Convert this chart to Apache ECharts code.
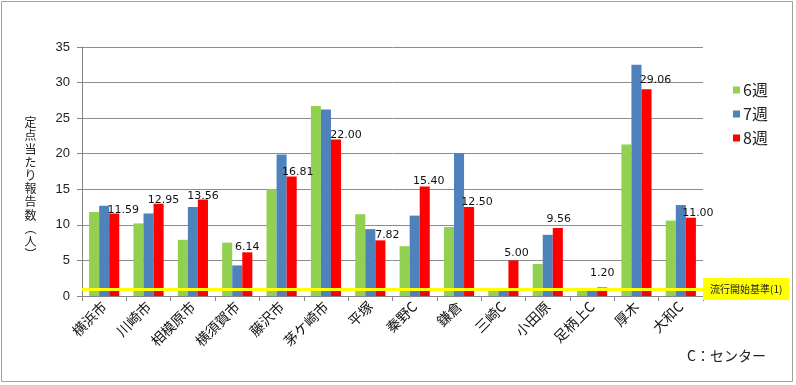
<!DOCTYPE html>
<html><head><meta charset="utf-8">
<script src="https://cdn.jsdelivr.net/npm/echarts@6/dist/echarts.min.js"></script>
<style>html,body{margin:0;padding:0;background:#fff}#c{width:796px;height:385px}</style>
</head><body><div id="c"></div>
<script>
const categories = ['横浜市','川崎市','相模原市','横須賀市','藤沢市','茅ケ崎市','平塚','秦野C','鎌倉','三崎C','小田原','足柄上C','厚木','大和C'];
const week6 = [11.8, 10.2, 7.9, 7.5, 15.0, 26.7, 11.5, 7.0, 9.7, 0.8, 4.5, 0.8, 21.3, 10.6];
const week7 = [12.7, 11.6, 12.5, 4.3, 19.9, 26.2, 9.4, 11.3, 20.1, 0.9, 8.6, 1.0, 32.5, 12.8];
const week8 = [11.59, 12.95, 13.56, 6.14, 16.81, 22.00, 7.82, 15.40, 12.50, 5.00, 9.56, 1.20, 29.06, 11.00];
const seriesNames = ['6週','7週','8週'];
const thresholdValue = 1;
const thresholdLabel = '流行開始基準(1)';
const yTicks = {min: 0, max: 35, interval: 5};
const yAxisTitleChars = ['定','点','当','た','り','報','告','数','︵','人','︶'];

// label nudges (style only): [dx, dy] in px
const labelNudge = [[9,2],[5,2],[0,2],[0,0],[6,1],[10,1],[7,0],[4,0],[8,1],[3,-2],[1,-3],[0,-9],[9,-4],[7,1]];

const FONT = '"Noto Sans CJK JP", "Liberation Sans", sans-serif';
const chart = echarts.init(document.getElementById('c'));
const redData = week8.map((v, i) => ({value: v, label: {offset: labelNudge[i]}}));
chart.setOption({
  animation: false,
  textStyle: {fontFamily: FONT},
  grid: {left: 82, right: 93, top: 47, bottom: 89, containLabel: false},
  legend: {
    data: seriesNames, orient: 'vertical', left: 728, top: 77,
    itemWidth: 7, itemHeight: 7, itemGap: 8, icon: 'rect',
    textStyle: {fontSize: 16, color: '#222', fontFamily: FONT, padding: [0,0,0,-2]}
  },
  xAxis: {
    type: 'category', data: categories,
    axisLine: {lineStyle: {color: '#868686'}},
    axisTick: {show: true, length: 5, lineStyle: {color: '#868686'}},
    axisLabel: {rotate: 45, fontSize: 14, color: '#111', margin: 8, interval: 0, fontFamily: FONT}
  },
  yAxis: {
    type: 'value', min: yTicks.min, max: yTicks.max, interval: yTicks.interval,
    axisLine: {show: true, lineStyle: {color: '#868686'}},
    axisTick: {show: true, length: 5, lineStyle: {color: '#868686'}},
    splitLine: {lineStyle: {color: '#8c8c8c', width: 1}},
    axisLabel: {fontSize: 13, color: '#222', margin: 12, fontFamily: '"Liberation Sans", sans-serif'}
  },
  series: [
    {name: seriesNames[0], type: 'bar', data: week6, barGap: '0%', barCategoryGap: '32%',
     itemStyle: {color: '#92D050'}},
    {name: seriesNames[1], type: 'bar', data: week7, barGap: '0%', barCategoryGap: '32%',
     itemStyle: {color: '#4F81BD'}},
    {name: seriesNames[2], type: 'bar', data: redData, barGap: '0%', barCategoryGap: '32%',
     itemStyle: {color: '#FF0000'},
     label: {show: true, position: 'top', distance: 0, fontSize: 11, color: '#111',
             fontFamily: '"DejaVu Sans", sans-serif',
             formatter: p => p.value.toFixed(2)},
     markLine: {
       silent: true, symbol: 'none',
       lineStyle: {color: '#FFFF00', width: 3, type: 'solid'},
       label: {show: true, position: 'end', distance: 0, formatter: thresholdLabel,
               backgroundColor: '#FFFF00', color: '#222', fontSize: 10, padding: [6, 7],
               fontFamily: FONT},
       data: [{yAxis: thresholdValue}]
     }}
  ],
  graphic: [
    {type: 'rect', shape: {x: 1.5, y: 1.5, width: 791, height: 380},
     style: {fill: 'none', stroke: '#a0a0a0', lineWidth: 1}, silent: true},
    {type: 'text', x: 30.5, y: 116,
     style: {text: yAxisTitleChars.join('\n'), align: 'center', verticalAlign: 'top',
             fontSize: 12, lineHeight: 13.2, fontFamily: FONT, fill: '#222'}},
    {type: 'text', x: 687, y: 349,
     style: {text: 'C：センター', fontSize: 14, fontFamily: FONT, fill: '#222'}}
  ]
});
</script></body></html>
